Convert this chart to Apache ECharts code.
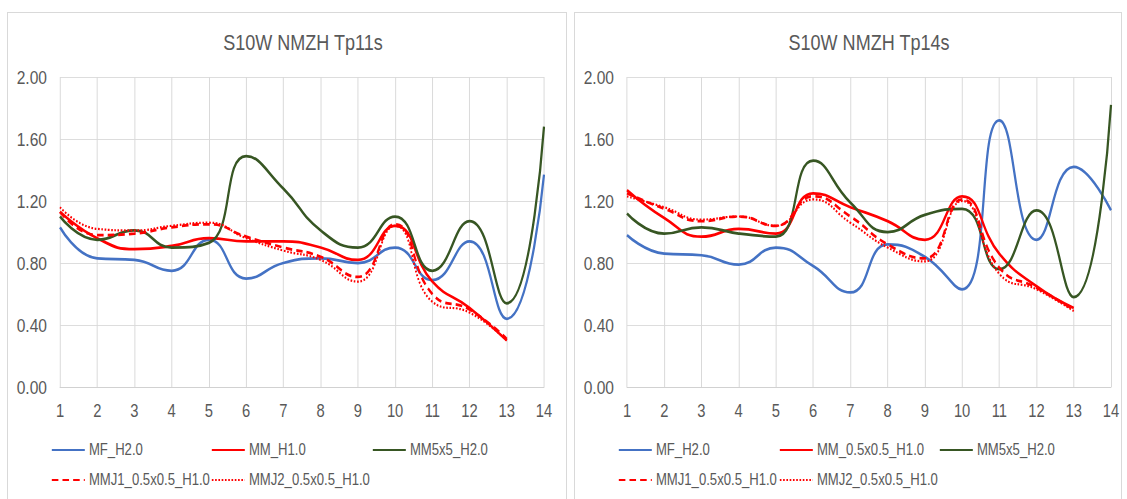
<!DOCTYPE html>
<html>
<head>
<meta charset="utf-8">
<script src="https://cdn.jsdelivr.net/npm/echarts@6/dist/echarts.min.js"></script>
<style>
html,body{margin:0;padding:0;background:#fff;overflow:hidden;width:1127px;height:499px;}
#c{height:499px;transform-origin:0 0;}
</style>
</head>
<body>
<div id="c"></div>
<script>
// ---- data ----
const categories = ['1','2','3','4','5','6','7','8','9','10','11','12','13','14'];
const yTicks = [0, 0.4, 0.8, 1.2, 1.6, 2.0];

const titleLeft = 'S10W NMZH Tp11s';
const titleRight = 'S10W NMZH Tp14s';

// Left chart: S10W NMZH Tp11s
const L_MF_H20   = [1.03, 0.83, 0.82, 0.75, 0.95, 0.70, 0.80, 0.83, 0.80, 0.90, 0.69, 0.94, 0.44, 1.37];
const L_MM_H10   = [1.13, 0.96, 0.89, 0.91, 0.96, 0.94, 0.94, 0.90, 0.82, 1.04, 0.68, 0.51, 0.30, null];
const L_MM5x5    = [1.10, 0.95, 1.01, 0.90, 0.93, 1.49, 1.28, 1.01, 0.90, 1.10, 0.75, 1.07, 0.54, 1.68];
const L_MMJ1     = [1.13, 0.98, 0.99, 1.03, 1.05, 0.97, 0.90, 0.84, 0.71, 1.05, 0.60, 0.50, 0.31, null];
const L_MMJ2     = [1.16, 1.02, 1.01, 1.04, 1.06, 0.96, 0.88, 0.82, 0.68, 1.04, 0.55, 0.48, 0.30, null];

// Right chart: S10W NMZH Tp14s
const R_MF_H20   = [0.98, 0.86, 0.85, 0.79, 0.90, 0.78, 0.61, 0.92, 0.84, 0.63, 1.72, 0.95, 1.42, 1.14];
const R_MM_H10   = [1.27, 1.09, 0.97, 1.02, 0.99, 1.25, 1.16, 1.07, 0.95, 1.23, 0.86, 0.65, 0.51, null];
const R_MM5x5    = [1.12, 0.99, 1.03, 0.99, 0.97, 1.46, 1.19, 1.00, 1.11, 1.15, 0.76, 1.14, 0.58, 1.82];
const R_MMJ1     = [1.25, 1.15, 1.07, 1.10, 1.04, 1.23, 1.10, 0.92, 0.83, 1.21, 0.77, 0.64, 0.50, null];
const R_MMJ2     = [1.23, 1.16, 1.08, 1.10, 1.04, 1.21, 1.06, 0.90, 0.81, 1.20, 0.73, 0.63, 0.49, null];

const namesLeft  = ['MF_H2.0', 'MM_H1.0', 'MM5x5_H2.0', 'MMJ1_0.5x0.5_H1.0', 'MMJ2_0.5x0.5_H1.0'];
const namesRight = ['MF_H2.0', 'MM_0.5x0.5_H1.0', 'MM5x5_H2.0', 'MMJ1_0.5x0.5_H1.0', 'MMJ2_0.5x0.5_H1.0'];

// ---- styling / layout ----
// The reference is a horizontally condensed (narrow-font) rendering; emulate with a scaleX on the container.
const S = 0.82;
const X = v => v / S;
const el = document.getElementById('c');
el.style.width = (1127 / S) + 'px';
el.style.transform = 'scaleX(' + S + ')';

const FONT = "'Liberation Sans', Arial, sans-serif";
const TXT = '#595959';
const GRIDC = '#d9d9d9';
const styles = [
  {color:'#4472C4', type:'solid', width:2.75},
  {color:'#FF0000', type:'solid', width:2.75},
  {color:'#375623', type:'solid', width:2.75},
  {color:'#FF0000', type:[8,5], width:2.75},
  {color:'#FF0000', type:[2,2], width:2.2}
];

const chart = echarts.init(el, null, {renderer:'svg'});

function xAxis(gi){
  return {
    type:'category', gridIndex:gi, data:categories, boundaryGap:false,
    axisLine:{show:true, lineStyle:{color:'#d0d0d0', width:1}},
    axisTick:{show:false},
    axisLabel:{color:TXT, fontFamily:FONT, fontSize:18, margin:14},
    splitLine:{show:true, lineStyle:{color:GRIDC, width:1.2}}
  };
}
function yAxis(gi){
  return {
    type:'value', gridIndex:gi, min:yTicks[0], max:yTicks[yTicks.length-1], interval:0.4,
    axisLine:{show:false}, axisTick:{show:false},
    axisLabel:{color:TXT, fontFamily:FONT, fontSize:19, margin:X(13), formatter:v=>v.toFixed(2)},
    splitLine:{show:true, lineStyle:{color:GRIDC, width:1}}
  };
}
function mkSeries(name, data, gi, st){
  return {
    type:'line', name:name, data:data, xAxisIndex:gi, yAxisIndex:gi,
    smooth:0.5, symbol:'none', connectNulls:false,
    lineStyle:{color:st.color, type:st.type, width:st.width},
    itemStyle:{color:st.color},
    emphasis:{disabled:true}
  };
}

const leftData = [L_MF_H20, L_MM_H10, L_MM5x5, L_MMJ1, L_MMJ2];
const rightData = [R_MF_H20, R_MM_H10, R_MM5x5, R_MMJ1, R_MMJ2];
const series = [];
leftData.forEach((d,i)=>series.push(mkSeries(namesLeft[i], d, 0, styles[i])));
rightData.forEach((d,i)=>series.push(mkSeries(namesRight[i], d, 1, styles[i])));

// legends: one per item to mimic Excel's column layout
const legPosL = [[51,450],[211,450],[372,450],[51,480],[211,480]];
const legPosR = [[618,450],[779,450],[939,450],[618,480],[779,480]];
const legends = [];
function mkLegend(name, pos){
  return {
    data:[name], left:X(pos[0]), top:pos[1]-8, padding:0,
    itemWidth:X(33), itemHeight:16, selectedMode:false,
    itemStyle:{opacity:0},
    textStyle:{color:TXT, fontFamily:FONT, fontSize:16}
  };
}
namesLeft.forEach((n,i)=>legends.push(mkLegend(n, legPosL[i])));
namesRight.forEach((n,i)=>legends.push(mkLegend(n, legPosR[i])));

chart.setOption({
  animation:false,
  backgroundColor:'#fff',
  title:[
    {text:titleLeft, left:X(303), top:31, textAlign:'center', padding:0,
     textStyle:{color:TXT, fontFamily:FONT, fontSize:22, fontWeight:'normal'}},
    {text:titleRight, left:X(869), top:31, textAlign:'center', padding:0,
     textStyle:{color:TXT, fontFamily:FONT, fontSize:22, fontWeight:'normal'}}
  ],
  graphic:[
    {type:'rect', shape:{x:X(7.5), y:12.5, width:X(559), height:520}, style:{fill:null, stroke:'#d9d9d9', lineWidth:1.2}, z:-10, silent:true},
    {type:'rect', shape:{x:X(574.5), y:12.5, width:X(547), height:520}, style:{fill:null, stroke:'#d9d9d9', lineWidth:1.2}, z:-10, silent:true}
  ],
  grid:[
    {left:X(60), top:77, width:X(484), height:310},
    {left:X(627), top:77, width:X(484), height:310}
  ],
  xAxis:[xAxis(0), xAxis(1)],
  yAxis:[yAxis(0), yAxis(1)],
  legend:legends,
  series:series
});
</script>
</body>
</html>
